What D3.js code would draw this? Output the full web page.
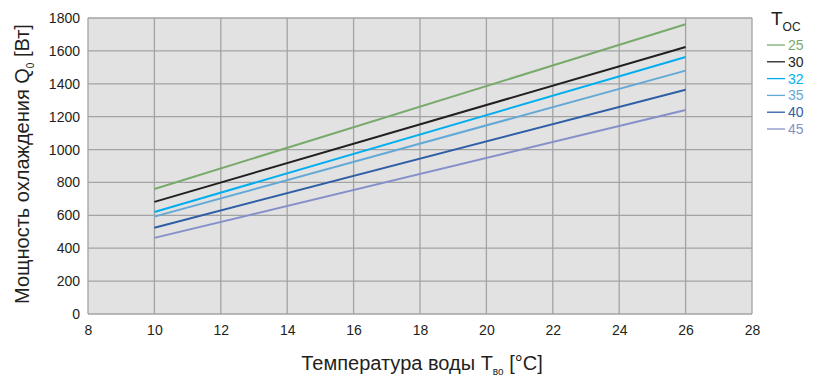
<!DOCTYPE html>
<html lang="ru">
<head>
<meta charset="utf-8">
<style>
  body { margin: 0; background: #fff; }
  text { font-family: "Liberation Sans", Arial, sans-serif; fill: #231f20; }
</style>
<script src="https://cdn.jsdelivr.net/npm/d3@7"></script>
</head>
<body>
<svg></svg>
<script>
// data: cooling power vs water temperature, one line per ambient temperature
var tempsOC = ["25", "30", "32", "35", "40", "45"];
var waterTemp = [10, 26];
var power25 = [760, 1762];
var power30 = [682, 1624];
var power32 = [620, 1563];
var power35 = [592, 1480];
var power40 = [525, 1364];
var power45 = [463, 1240];
var colors = ["#79aa6c", "#231f20", "#00aeef", "#63a9d5", "#2f5ea5", "#8590c8"];
var xTicks = [8, 10, 12, 14, 16, 18, 20, 22, 24, 26, 28];
var yTicks = [0, 200, 400, 600, 800, 1000, 1200, 1400, 1600, 1800];

var allPower = [power25, power30, power32, power35, power40, power45];
var series = tempsOC.map(function(t, i) {
    return { name: t, color: colors[i],
             values: waterTemp.map(function(x, j) { return { x: x, y: allPower[i][j] }; }) };
});

var W = 814, H = 378;
var margin = {top: 18, right: 62, bottom: 64, left: 88},
    width = W - margin.left - margin.right,
    height = H - margin.top - margin.bottom;

var svg = d3.select("svg").attr("width", W).attr("height", H);
var g = svg.append("g").attr("transform", "translate(" + margin.left + "," + margin.top + ")");

var x = d3.scaleLinear().domain([8, 28]).range([0, width]);
var y = d3.scaleLinear().domain([0, 1800]).range([height, 0]);

// plot background
g.append("rect").attr("width", width).attr("height", height).attr("fill", "#e2e2e3");

// grid
g.selectAll(".vgrid").data(xTicks).enter().append("line")
    .attr("x1", function(d) { return x(d); }).attr("x2", function(d) { return x(d); })
    .attr("y1", 0).attr("y2", height)
    .attr("stroke", "#a3a3a3").attr("stroke-width", 1.3);
g.selectAll(".hgrid").data(yTicks).enter().append("line")
    .attr("y1", function(d) { return y(d); }).attr("y2", function(d) { return y(d); })
    .attr("x1", 0).attr("x2", width)
    .attr("stroke", "#a3a3a3").attr("stroke-width", 1.3);

// axes
var xAxis = g.append("g").attr("transform", "translate(0," + height + ")")
    .call(d3.axisBottom(x).tickValues(xTicks).tickFormat(d3.format("d")).tickSize(0).tickPadding(11));
var yAxis = g.append("g")
    .call(d3.axisLeft(y).tickValues(yTicks).tickFormat(d3.format("d")).tickSize(0).tickPadding(8));
[xAxis, yAxis].forEach(function(a) {
    a.select(".domain").remove();
    a.selectAll("text").style("font-size", "14px").attr("fill", "#231f20")
        .style("font-family", "'Liberation Sans', Arial, sans-serif");
});

// lines
var line = d3.line().x(function(d) { return x(d.x); }).y(function(d) { return y(d.y); });
g.selectAll(".series").data(series).enter().append("path")
    .attr("d", function(d) { return line(d.values); })
    .attr("fill", "none").attr("stroke", function(d) { return d.color; })
    .attr("stroke-width", 2);

// axis titles
var xt = svg.append("text").attr("x", 422).attr("y", 370)
    .attr("text-anchor", "middle").style("font-size", "20px");
xt.append("tspan").text("Температура воды T");
xt.append("tspan").text("во").style("font-size", "10px").attr("dy", 5);
xt.append("tspan").text(" [°C]").attr("dy", -5);

var yt = svg.append("text").attr("transform", "translate(29,164) rotate(-90)")
    .attr("text-anchor", "middle").style("font-size", "20px");
yt.append("tspan").text("Мощность охлаждения Q");
yt.append("tspan").text("0").style("font-size", "10px").attr("dy", 5);
yt.append("tspan").text(" [Вт]").attr("dy", -5);

// legend
var lg = svg.append("g").attr("transform", "translate(767,0)");
var lt = lg.append("text").attr("x", 4).attr("y", 25).style("font-size", "19px");
lt.append("tspan").text("T");
lt.append("tspan").text("OC").style("font-size", "12px").attr("dy", 6);

var item = lg.selectAll(".item").data(series).enter().append("g")
    .attr("transform", function(d, i) { return "translate(0," + (45 + i * 16.8) + ")"; });
item.append("line").attr("x1", 0).attr("x2", 18).attr("y1", 0).attr("y2", 0)
    .attr("stroke", function(d) { return d.color; }).attr("stroke-width", 1.3);
item.append("text").attr("x", 21).attr("y", 5).style("font-size", "14px")
    .style("fill", function(d) { return d.color; })
    .text(function(d) { return d.name; });
</script>
</body>
</html>
